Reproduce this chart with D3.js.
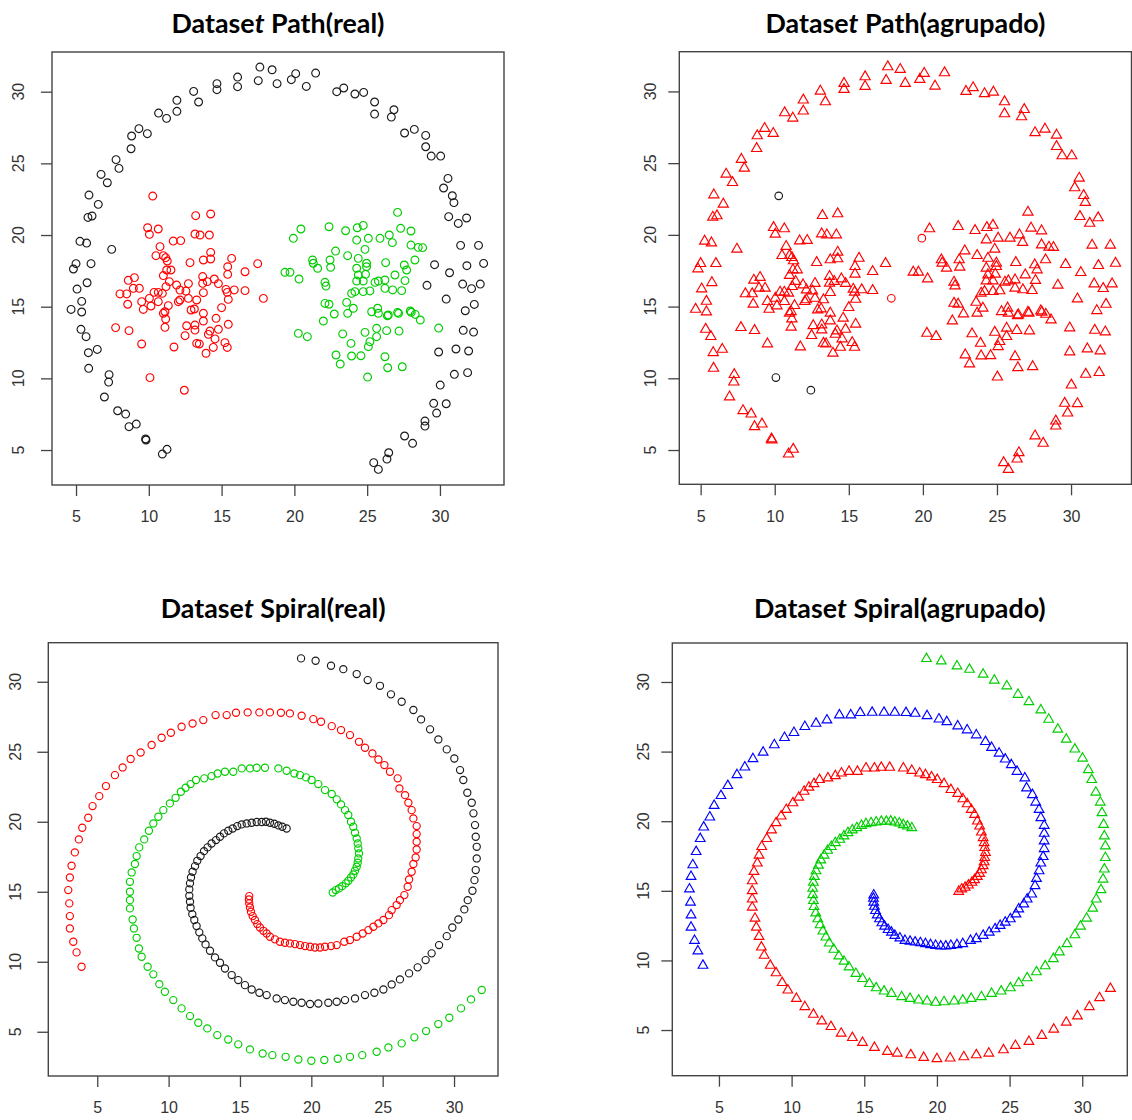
<!DOCTYPE html>
<html>
<head>
<meta charset="utf-8">
<script src="https://cdnjs.cloudflare.com/ajax/libs/d3/7.8.5/d3.min.js"></script>
<style>
  body { margin: 0; background: #fff; }
  svg { display: block; }
</style>
</head>
<body>
<div id="chart"></div>
<script>
// ---- Dataset Path ----
// anillo exterior (clase real 1, negro)
const pathRing = [
  [17.63,31.72],[18.47,31.53],[16.10,31.02],[16.10,30.35],[17.52,30.77],[14.68,30.56],[14.68,30.14],[13.08,30.02],
  [13.42,29.28],[11.93,29.40],[11.93,28.63],[10.67,28.51],[11.22,28.14],[9.32,27.42],[8.82,26.91],[9.90,27.07],
  [8.78,26.02],[7.75,25.26],[7.95,24.65],[6.72,24.23],[7.15,23.65],[5.89,22.79],[6.53,22.14],[5.82,21.23],
  [6.10,21.33],[5.27,19.56],[5.73,19.44],[7.45,19.00],[5.00,18.00],[6.03,18.00],[4.82,17.63],
  [18.81,30.56],[19.79,30.84],[20.09,31.26],[20.82,30.37],[21.46,31.30],[22.91,30.00],[23.39,30.26],[24.16,29.84],
  [24.76,29.95],[25.51,29.28],[25.51,28.44],[26.84,28.74],[26.66,28.23],[27.57,27.12],[28.24,27.37],[29.02,26.95],
  [29.02,26.16],[29.40,25.51],[30.05,25.51],[30.55,23.95],[30.25,23.28],[30.85,22.74],[30.96,22.26],[30.60,21.28],
  [31.26,20.81],[31.83,21.19],[31.42,19.28],[32.65,19.28],
  [29.63,17.93],[31.85,17.86],[33.00,18.02],[30.66,17.37],[29.11,16.49],[31.56,16.58],[32.17,16.26],[32.77,16.58],
  [30.43,15.53],[31.74,14.72],[32.36,15.16],[31.60,13.35],[32.31,13.23],[29.91,11.84],[31.10,12.05],[31.97,11.91],
  [30.99,10.28],[31.90,10.40],[30.02,9.53],[29.57,8.26],[30.43,8.23],[29.77,7.58],[28.97,7.02],[28.97,6.67],
  [27.57,5.98],[28.12,5.47],[26.48,4.81],[26.36,4.37],[25.45,4.12],[25.77,3.65],
  [5.07,16.23],[5.76,16.67],[5.39,15.37],[4.66,14.81],[5.39,14.63],[5.34,13.42],[5.69,12.91],[5.85,11.79],
  [6.46,12.02],[5.87,10.70],[7.27,10.26],[7.24,9.74],[6.95,8.70],[7.86,7.74],[8.41,7.51],[8.64,6.63],
  [9.14,6.81],[9.78,5.77],[9.81,5.70],[10.93,4.72],[11.25,5.05]
];
// grupo izquierdo (clase real 2, rojo)
const pathLeft = [
  [10.27,22.72],[13.22,21.35],[14.25,21.47],[9.92,20.51],[10.04,20.05],[10.65,20.42],[13.17,20.07],[13.52,20.00],
  [14.16,20.00],[11.68,19.58],[12.19,19.61],[10.77,19.19],[10.49,18.56],[11.00,18.56],[11.16,18.42],[11.27,18.19],
  [12.83,18.07],[13.75,18.26],[14.25,18.79],[14.25,18.33],[15.69,18.37],[15.42,17.79],[15.42,17.26],[17.48,18.00],
  [16.61,17.44],[11.52,17.56],[11.23,17.56],[11.00,17.17],[8.59,16.84],[9.01,17.03],[8.94,16.28],[9.35,16.28],
  [8.02,15.89],[8.48,15.89],[8.55,15.17],[11.41,16.75],[11.91,16.51],[12.72,16.61],[13.70,17.10],[13.70,16.63],
  [14.02,16.75],[14.50,16.93],[14.78,16.61],[11.18,16.40],[10.36,16.00],[10.65,16.00],[10.93,15.93],[12.14,16.16],
  [12.55,16.09],[13.75,15.98],[15.30,16.21],[15.39,16.00],[15.87,16.17],[16.61,16.12],[17.87,15.58],[15.46,15.51],
  [9.51,15.35],[10.04,15.58],[10.65,15.35],[9.62,14.81],[10.15,15.05],[12.14,15.47],[12.03,15.35],[12.72,15.58],
  [13.29,15.47],[11.34,15.07],[11.11,14.65],[11.00,14.54],[11.16,14.14],[11.11,13.56],[12.90,14.77],[13.13,14.84],
  [13.75,14.54],[13.75,14.00],[15.00,14.93],[14.62,14.19],[15.46,13.77],[12.60,13.67],[13.17,13.72],[13.17,13.37],
  [12.49,12.98],[14.20,13.30],[14.09,13.07],[14.78,13.42],[14.55,12.75],[13.29,12.44],[13.47,12.40],[14.43,12.16],
  [15.23,12.49],[15.39,12.16],[13.93,11.75],[7.72,13.54],[8.64,13.33],[9.51,12.40],[11.73,12.19],[10.08,10.05],
  [12.44,9.17]
];
// grupo derecho (clase real 3, verde)
const pathRight = [
  [27.09,21.58],[20.45,20.42],[19.93,19.77],[22.38,20.58],[23.52,20.30],[24.32,20.51],[24.73,20.67],[24.28,19.65],
  [25.08,19.77],[25.88,19.77],[26.52,20.00],[26.73,19.47],[27.30,20.47],[28.01,20.28],[28.01,19.30],[28.51,19.14],
  [28.81,19.12],[22.83,18.88],[23.66,18.56],[24.85,19.00],[24.39,18.37],[24.96,18.03],[24.96,17.79],[24.28,17.68],
  [24.39,17.21],[24.89,17.26],[21.25,18.26],[21.30,18.03],[21.60,17.68],[22.45,18.26],[22.49,17.75],[19.35,17.40],
  [19.70,17.40],[20.32,16.93],[26.27,18.07],[27.55,17.91],[27.71,17.56],[28.28,18.26],[26.91,17.21],[27.60,16.82],
  [26.22,16.86],[25.54,16.70],[25.77,16.79],[24.28,16.79],[24.73,16.79],[22.10,16.70],[22.17,16.44],[26.22,16.28],
  [26.75,16.17],[27.37,16.12],[23.93,15.93],[24.16,16.05],[24.73,16.05],[25.19,16.10],[23.59,15.30],[24.05,14.89],
  [22.10,15.23],[22.38,15.17],[22.74,14.49],[23.66,14.54],[21.99,14.00],[25.31,14.65],[25.72,14.89],[25.77,14.54],
  [26.39,14.37],[26.45,14.42],[27.09,14.60],[27.16,14.54],[27.96,14.70],[28.03,14.61],[28.30,14.46],[28.65,14.07],
  [20.27,13.14],[20.89,12.91],[23.32,13.10],[23.89,12.44],[24.85,13.21],[25.65,13.49],[25.65,12.91],[26.34,13.33],
  [27.19,13.30],[25.19,12.56],[25.08,12.21],[22.86,11.63],[23.15,11.00],[23.93,11.56],[24.57,11.58],[26.22,11.51],
  [26.41,10.74],[27.41,10.81],[25.03,10.09],[29.91,13.51]
];
// resultado agrupado: excepciones al grupo principal (triangulo rojo)
const pathAgrupadoNegro = { left: [0, 95, 96] };          // circulo negro
const pathAgrupadoCirculoRojo = { left: [54], right: [2] }; // circulo rojo

// ---- Dataset Spiral ----
const spiralRed = [
  [3.90,9.64],[3.55,10.67],[3.32,11.43],[3.08,12.38],[3.08,13.26],[3.04,14.17],[2.97,15.12],[3.08,16.02],
  [3.20,16.86],[3.43,17.81],[3.71,18.74],[3.95,19.57],[4.37,20.29],[4.67,21.12],[5.14,21.83],[5.61,22.55],
  [6.24,23.33],[6.78,23.88],[7.34,24.48],[8.04,24.95],[8.81,25.48],[9.51,26.00],[10.16,26.36],[10.91,26.79],
  [11.68,27.02],[12.43,27.26],[13.29,27.62],[14.07,27.62],[14.72,27.79],[15.54,27.81],[16.36,27.81],
  [17.10,27.81],[17.87,27.79],[18.50,27.74],[19.32,27.57],[20.14,27.33],[20.68,27.14],[21.43,26.83],[22.08,26.55],
  [22.71,26.19],[23.34,25.71],[23.76,25.29],[24.28,24.88],[24.70,24.45],[25.12,24.05],[25.51,23.57],[26.05,23.10],
  [26.17,22.38],[26.57,21.90],[26.80,21.36],[27.03,20.83],[27.15,20.24],[27.38,19.69],[27.38,19.12],[27.38,18.57],
  [27.38,18.02],[27.31,17.45],[27.15,16.98],[27.03,16.43],[26.85,15.88],[26.75,15.36],[26.52,14.76],[26.21,14.40],
  [25.98,14.05],[25.63,13.69],[25.44,13.33],[25.05,12.98],[24.70,12.74],[24.35,12.50],[24.00,12.26],[23.60,12.02],
  [23.18,11.79],[22.71,11.55],[22.31,11.43],[21.78,11.19],[21.38,11.12],[20.96,11.07],[20.61,11.02],[20.26,11.02],
  [19.91,11.07],[19.56,11.12],[19.21,11.19],[18.86,11.26],[18.50,11.31],[18.15,11.36],[17.80,11.43],[17.45,11.60],
  [17.10,11.79],[16.87,12.02],[16.64,12.21],[16.40,12.45],[16.21,12.69],[16.05,12.98],[15.89,13.26],[15.77,13.57],
  [15.70,13.88],[15.65,14.17],[15.63,14.45],[15.65,14.69]
];
const spiralGreen = [
  [31.94,7.98],[31.19,7.31],[30.49,6.67],[29.67,6.00],[28.90,5.55],[28.04,5.05],[27.22,4.60],[26.33,4.17],
  [25.40,3.88],[24.58,3.57],[23.57,3.33],[22.71,3.21],[21.85,3.07],[20.91,2.98],[20.00,2.93],[19.09,3.02],
  [18.20,3.21],[17.27,3.33],[16.59,3.45],[15.70,3.74],[14.88,4.10],[14.18,4.45],[13.41,4.76],[12.71,5.24],
  [12.08,5.64],[11.50,6.12],[10.91,6.67],[10.33,7.26],[9.74,7.86],[9.35,8.40],[8.93,9.10],[8.53,9.64],
  [8.11,10.36],[7.92,10.95],[7.76,11.71],[7.57,12.38],[7.48,13.02],[7.29,13.81],[7.29,14.40],[7.29,15.00],
  [7.29,15.71],[7.41,16.38],[7.64,16.98],[7.76,17.55],[7.94,18.17],[8.29,18.74],[8.62,19.36],[8.93,19.88],
  [9.28,20.36],[9.63,20.83],[10.09,21.31],[10.49,21.71],[10.86,22.14],[11.19,22.43],[11.54,22.69],[11.92,22.98],
  [12.50,23.10],[13.01,23.26],[13.43,23.45],[13.95,23.57],[14.53,23.57],[15.12,23.81],[15.70,23.81],[16.17,23.86],
  [16.75,23.86],[17.69,23.81],[18.27,23.64],[18.81,23.45],[19.21,23.33],[19.63,23.17],[20.02,22.98],[20.49,22.69],
  [20.96,22.26],[21.43,21.98],[21.78,21.60],[22.08,21.24],[22.36,20.83],[22.59,20.48],[22.78,20.00],[22.94,19.64],
  [23.06,19.21],[23.18,18.81],[23.25,18.45],[23.29,18.10],[23.34,17.74],[23.29,17.38],[23.25,17.07],[23.18,16.79],
  [23.06,16.50],[22.94,16.24],[22.78,16.02],[22.59,15.79],[22.41,15.60],[22.17,15.40],[21.94,15.24],[21.71,15.12],
  [21.50,14.95]
];
const spiralBlack = [
  [18.27,19.52],[17.97,19.64],[17.69,19.74],[17.41,19.86],[17.10,19.93],[16.82,20.00],[16.52,19.98],[16.17,19.98],
  [15.82,19.93],[15.47,19.88],[15.12,19.81],[14.81,19.69],[14.49,19.52],[14.18,19.36],[13.88,19.17],[13.60,18.93],
  [13.32,18.69],[13.01,18.45],[12.73,18.17],[12.48,17.90],[12.24,17.55],[12.01,17.21],[11.85,16.83],[11.68,16.43],
  [11.57,16.02],[11.50,15.60],[11.45,15.17],[11.45,14.71],[11.50,14.29],[11.54,13.86],[11.66,13.40],[11.80,12.98],
  [11.96,12.55],[12.15,12.10],[12.36,11.67],[12.59,11.24],[12.90,10.79],[13.25,10.31],[13.60,9.93],[13.95,9.52],
  [14.42,9.05],[14.88,8.69],[15.35,8.33],[15.82,8.02],[16.36,7.79],[16.87,7.62],[17.57,7.38],[18.15,7.26],
  [18.74,7.14],[19.32,7.07],[19.91,6.98],[20.49,7.02],[21.19,7.07],[21.78,7.14],[22.36,7.26],[23.06,7.38],
  [23.76,7.62],[24.42,7.79],[25.05,8.02],[25.63,8.38],[26.21,8.74],[26.85,9.17],[27.45,9.60],[28.01,10.12],
  [28.43,10.60],[28.95,11.19],[29.49,11.83],[29.88,12.45],[30.30,13.02],[30.72,13.74],[30.96,14.40],[31.29,15.07],
  [31.43,15.83],[31.52,16.55],[31.59,17.38],[31.59,18.21],[31.52,18.93],[31.47,19.76],[31.36,20.60],[31.24,21.36],
  [30.93,22.07],[30.65,22.98],[30.42,23.69],[30.02,24.52],[29.49,25.17],[28.90,25.88],[28.32,26.60],[27.69,27.31],
  [27.15,27.98],[26.33,28.57],[25.58,29.10],[24.81,29.71],[23.95,30.12],[23.18,30.55],[22.24,30.90],[21.38,31.14],
  [20.30,31.50],[19.28,31.67]
];

const tickValues = [5, 10, 15, 20, 25, 30];

const width = 1132;
const height = 1120;

const svg = d3.select('#chart')
  .append('svg')
  .attr('width', width)
  .attr('height', height)
  .style('background-color', 'white');

const colors = { black: '#1a1a1a', red: '#ff0000', green: '#00cd00', blue: '#0000ff' };

// puntos de cada panel
const pathRealPts = [
  ...pathRing.map(d => ({ d, shape: 'circle', color: colors.black })),
  ...pathLeft.map(d => ({ d, shape: 'circle', color: colors.red })),
  ...pathRight.map(d => ({ d, shape: 'circle', color: colors.green }))
];

function agrupadoStyle(set, i) {
  if ((pathAgrupadoNegro[set] || []).includes(i)) return { shape: 'circle', color: colors.black };
  if ((pathAgrupadoCirculoRojo[set] || []).includes(i)) return { shape: 'circle', color: colors.red };
  return { shape: 'triangle', color: colors.red };
}
const pathAgrPts = [
  ...pathRing.map((d, i) => ({ d, ...agrupadoStyle('ring', i) })),
  ...pathLeft.map((d, i) => ({ d, ...agrupadoStyle('left', i) })),
  ...pathRight.map((d, i) => ({ d, ...agrupadoStyle('right', i) }))
];

const spiralRealPts = [
  ...spiralGreen.map(d => ({ d, shape: 'circle', color: colors.green })),
  ...spiralBlack.map(d => ({ d, shape: 'circle', color: colors.black })),
  ...spiralRed.map(d => ({ d, shape: 'circle', color: colors.red }))
];
const spiralAgrPts = [
  ...spiralGreen.map(d => ({ d, shape: 'triangle', color: colors.red })),
  ...spiralBlack.map(d => ({ d, shape: 'triangle', color: colors.green })),
  ...spiralRed.map(d => ({ d, shape: 'triangle', color: colors.blue }))
];

const panels = [
  { title: 'Path(real)', pts: pathRealPts, box: [52, 52, 504, 485], xDom: [3.35, 34.40], yDom: [2.56, 32.77], titleY: 33, labOff: 34, r: 3.9 },
  { title: 'Path(agrupado)', pts: pathAgrPts, box: [679.3, 51.7, 1131.5, 484.3], xDom: [3.56, 34.08], yDom: [2.61, 32.77], titleY: 33, labOff: 29, r: 3.8 },
  { title: 'Spiral(real)', pts: spiralRealPts, box: [48.3, 642.7, 498, 1076], xDom: [1.57, 33.08], yDom: [1.84, 32.79], titleY: 618, labOff: 33, r: 3.6 },
  { title: 'Spiral(agrupado)', pts: spiralAgrPts, box: [672.3, 643, 1127.3, 1075.7], xDom: [1.79, 33.10], yDom: [1.72, 32.80], titleY: 618, labOff: 29, r: 3.6 }
];

panels.forEach(p => {
  const [x0, y0, x1, y1] = p.box;
  const x = d3.scaleLinear().domain(p.xDom).range([x0, x1]);
  const y = d3.scaleLinear().domain(p.yDom).range([y1, y0]);
  const g = svg.append('g');

  // titulo
  const t = g.append('text')
    .attr('x', (x0 + x1) / 2)
    .attr('y', p.titleY)
    .attr('text-anchor', 'middle')
    .style('font-family', 'Lato, "Open Sans", sans-serif')
    .style('font-weight', 'bold')
    .style('font-size', '26.8px')
    .style('fill', '#000');
  t.append('tspan').text('Datase');
  t.append('tspan').style('font-style', 'italic').text('t');
  t.append('tspan').text(' ' + p.title);

  // puntos
  const tri = d3.symbol().type(d3.symbolTriangle).size(Math.PI * p.r * p.r);
  g.append('g')
    .selectAll('path')
    .data(p.pts)
    .join('path')
    .attr('transform', o => `translate(${x(o.d[0])},${y(o.d[1])})`)
    .attr('d', o => o.shape === 'circle'
      ? d3.symbol().type(d3.symbolCircle).size(Math.PI * p.r * p.r)()
      : tri())
    .attr('fill', 'none')
    .attr('stroke', o => o.color)
    .attr('stroke-width', 1.15);

  // caja
  g.append('rect')
    .attr('x', x0).attr('y', y0)
    .attr('width', x1 - x0).attr('height', y1 - y0)
    .attr('fill', 'none')
    .attr('stroke', '#444')
    .attr('stroke-width', 1.4);

  // eje x
  const xa = g.append('g')
    .attr('transform', `translate(0,${y1})`)
    .call(d3.axisBottom(x).tickValues(tickValues).tickSize(11).tickPadding(15).tickSizeOuter(0));
  // eje y
  const ya = g.append('g')
    .attr('transform', `translate(${x0},0)`)
    .call(d3.axisLeft(y).tickValues(tickValues).tickSize(11).tickSizeOuter(0).tickFormat(''));
  [xa, ya].forEach(a => {
    a.select('.domain').remove();
    a.selectAll('line').attr('stroke', '#444').attr('stroke-width', 1.3);
  });
  xa.selectAll('text')
    .style('font-family', '"Liberation Sans", Arial, sans-serif')
    .style('font-size', '16px')
    .attr('fill', '#333');

  g.append('g')
    .selectAll('text')
    .data(tickValues)
    .join('text')
    .attr('transform', d => `translate(${x0 - p.labOff},${y(d)}) rotate(-90)`)
    .attr('text-anchor', 'middle')
    .attr('dy', '0.35em')
    .style('font-family', '"Liberation Sans", Arial, sans-serif')
    .style('font-size', '16px')
    .attr('fill', '#333')
    .text(d => d);
});
</script>
</body>
</html>
